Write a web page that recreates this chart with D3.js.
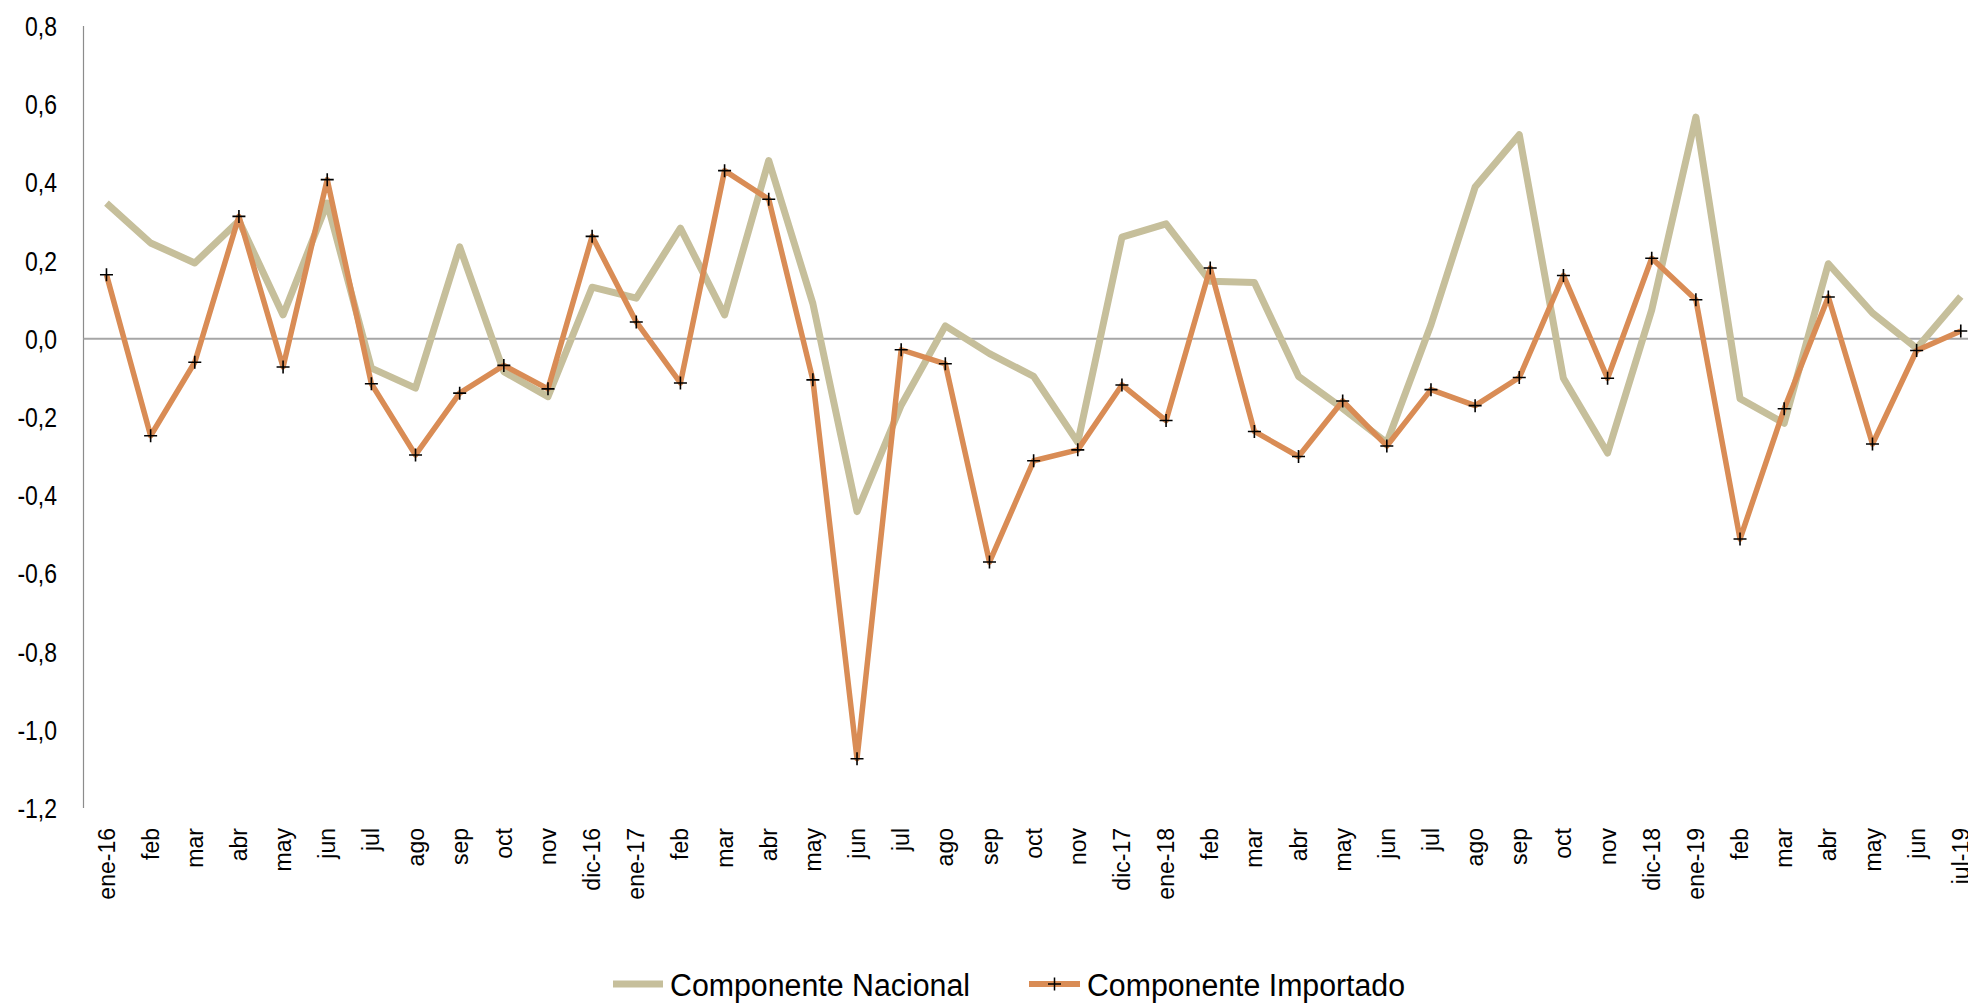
<!DOCTYPE html>
<html>
<head>
<meta charset="utf-8">
<script src="https://cdn.jsdelivr.net/npm/d3@7"></script>
<style>
  html, body { margin: 0; padding: 0; background: #fff; overflow: hidden; }
  svg { display: block; font-family: "Liberation Sans", Arial, sans-serif; }
</style>
</head>
<body>
<script>
const categories = ["ene-16","feb","mar","abr","may","jun","jul","ago","sep","oct","nov","dic-16",
  "ene-17","feb","mar","abr","may","jun","jul","ago","sep","oct","nov","dic-17",
  "ene-18","feb","mar","abr","may","jun","jul","ago","sep","oct","nov","dic-18",
  "ene-19","feb","mar","abr","may","jun","jul-19"];

const nacional = [0.347,0.245,0.194,0.302,0.061,0.347,-0.075,-0.126,0.235,-0.084,-0.148,0.132,
  0.104,0.283,0.061,0.456,0.090,-0.442,-0.170,0.033,-0.038,-0.096,-0.265,0.260,
  0.294,0.147,0.144,-0.096,-0.178,-0.266,0.036,0.388,0.522,-0.101,-0.292,0.074,
  0.567,-0.153,-0.216,0.192,0.066,-0.024,0.108];

const importado = [0.164,-0.248,-0.060,0.313,-0.072,0.407,-0.115,-0.297,-0.139,-0.068,-0.128,0.262,
  0.043,-0.113,0.430,0.357,-0.105,-1.074,-0.028,-0.064,-0.571,-0.312,-0.284,-0.118,
  -0.209,0.181,-0.237,-0.301,-0.159,-0.274,-0.130,-0.171,-0.099,0.162,-0.101,0.206,
  0.100,-0.512,-0.179,0.107,-0.269,-0.030,0.020];

const yTicks = [0.8,0.6,0.4,0.2,0.0,-0.2,-0.4,-0.6,-0.8,-1.0,-1.2];
const seriesNames = ["Componente Nacional","Componente Importado"];

const W = 1968, H = 1003;
const colNac = "#C6BF9B", colImp = "#D98C55";

const svg = d3.select("body").append("svg").attr("width", W).attr("height", H);

const x = d3.scaleBand().domain(d3.range(categories.length)).range([84.4, 84.4 + 43 * 44.15]).padding(0);
const cx = i => x(i) + x.bandwidth() / 2;
const y = d3.scaleLinear().domain([-1.2, 0.8]).range([808, 26]);

// y axis labels (slightly condensed/tall like the reference)
const fmt = v => d3.format(".1f")(v).replace(".", ",").replace("−", "-");
svg.append("g").selectAll("text").data(yTicks).join("text")
  .attr("transform", d => `translate(57,${y(d)}) scale(0.92,1.1)`)
  .attr("dy", "0.36em")
  .attr("text-anchor", "end").attr("font-size", 25).attr("fill", "#000")
  .text(d => fmt(d));

// y axis line
svg.append("line").attr("x1", 83.5).attr("x2", 83.5).attr("y1", y(0.8)).attr("y2", y(-1.2))
  .attr("stroke", "#8c8c8c").attr("stroke-width", 1.2);

// zero line
svg.append("line").attr("x1", 83.5).attr("x2", W).attr("y1", y(0)).attr("y2", y(0))
  .attr("stroke", "#a6a6a6").attr("stroke-width", 2);

// x labels
svg.append("g").selectAll("text").data(categories).join("text")
  .attr("transform", (d, i) => `translate(${cx(i)},828) rotate(-90)`)
  .attr("dy", "0.35em").attr("text-anchor", "end").attr("font-size", 23).attr("fill", "#000")
  .text(d => d);

const line = d3.line().x((d, i) => cx(i)).y(d => y(d));

svg.append("path").datum(nacional).attr("d", line)
  .attr("fill", "none").attr("stroke", colNac).attr("stroke-width", 7)
  .attr("stroke-linejoin", "round");

svg.append("path").datum(importado).attr("d", line)
  .attr("fill", "none").attr("stroke", colImp).attr("stroke-width", 5.5)
  .attr("stroke-linejoin", "round");

const cs = 6.5;
svg.append("g").selectAll("path").data(importado).join("path")
  .attr("d", `M${-cs},0H${cs}M0,${-cs}V${cs}`)
  .attr("transform", (d, i) => `translate(${cx(i)},${y(d)})`)
  .attr("stroke", "#000").attr("stroke-width", 1.6).attr("fill", "none");

// legend
const leg = svg.append("g");
leg.append("line").attr("x1", 613).attr("x2", 663).attr("y1", 984).attr("y2", 984)
  .attr("stroke", colNac).attr("stroke-width", 7);
leg.append("text").attr("x", 670).attr("y", 996).attr("font-size", 31).attr("fill", "#000")
  .attr("textLength", 300).attr("lengthAdjust", "spacingAndGlyphs")
  .text(seriesNames[0]);
leg.append("line").attr("x1", 1029).attr("x2", 1080).attr("y1", 984).attr("y2", 984)
  .attr("stroke", colImp).attr("stroke-width", 6);
leg.append("path").attr("d", `M${-cs},0H${cs}M0,${-cs}V${cs}`)
  .attr("transform", "translate(1054.5,984)").attr("stroke", "#000").attr("stroke-width", 1.5);
leg.append("text").attr("x", 1087).attr("y", 996).attr("font-size", 31).attr("fill", "#000")
  .attr("textLength", 318).attr("lengthAdjust", "spacingAndGlyphs")
  .text(seriesNames[1]);
</script>
</body>
</html>
